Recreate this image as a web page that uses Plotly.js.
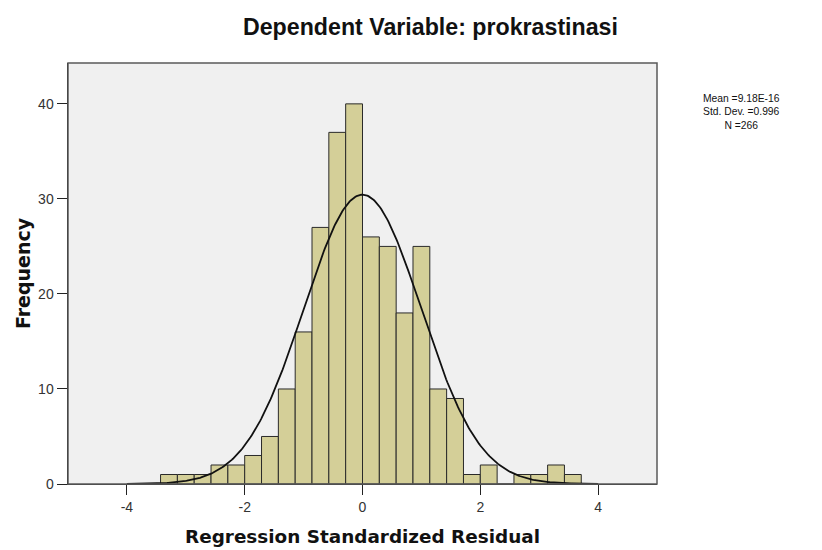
<!DOCTYPE html>
<html>
<head>
<meta charset="utf-8">
<script src="https://cdn.plot.ly/plotly-3.0.1.min.js"></script>
<style>html,body{margin:0;padding:0;background:#fff;}#chart{width:822px;height:550px;}</style>
</head>
<body>
<div id="chart"></div>
<script>
// Histogram bins (width 2/7, aligned at 0), indices -12..12
var binIndex = [-12,-11,-10,-9,-8,-7,-6,-5,-4,-3,-2,-1,0,1,2,3,4,5,6,7,8,9,10,11,12];
var frequency = [1,1,1,2,2,3,5,10,16,27,37,40,26,25,18,25,10,9,1,2,0,1,1,2,1];
var binWidth = 2/7;
var statMean = 9.18e-16;
var statSD = 0.996;
var statN = 266;
var xTicks = [-4,-2,0,2,4];
var yTicks = [0,10,20,30,40];
var statsLabels = ["Mean =9.18E-16", "Std. Dev. =0.996", "N =266"];

var centers = binIndex.map(function(i){ return (i + 0.5) * binWidth; });

// normal curve implied by the stated mean / SD / N
var cx = [], cy = [];
for (var k = 0; k <= 400; k++) {
  var x = -4 + 8 * k / 400;
  var z = (x - statMean) / statSD;
  cx.push(x);
  cy.push(statN * binWidth * Math.exp(-0.5 * z * z) / (statSD * Math.sqrt(2 * Math.PI)));
}

var traces = [
  {type: 'bar', x: centers, y: frequency, width: binWidth,
   marker: {color: '#d4cf98', line: {color: '#2a2a2a', width: 1}},
   hoverinfo: 'x+y', showlegend: false},
  {type: 'scatter', mode: 'lines', x: cx, y: cy,
   line: {color: '#111', width: 1.8}, showlegend: false, hoverinfo: 'skip'}
];

var layout = {
  width: 822, height: 550,
  margin: {l: 68, r: 165, t: 63, b: 66},
  paper_bgcolor: '#ffffff',
  plot_bgcolor: '#f0f0f0',
  bargap: 0,
  title: {text: '<b>Dependent Variable: prokrastinasi</b>',
          font: {family: 'Liberation Sans, Arial, sans-serif', size: 23.2, color: '#111'},
          x: 0.5237, xanchor: 'center', y: 0.951, yanchor: 'middle'},
  xaxis: {range: [-5, 5], tickvals: xTicks, ticktext: xTicks.map(String),
          ticks: 'outside', ticklen: 10, tickcolor: '#222', tickwidth: 1,
          showgrid: false, zeroline: false, showline: true, linecolor: '#333', linewidth: 1,
          tickfont: {family: 'Liberation Sans, Arial, sans-serif', size: 14, color: '#333'},
          title: {text: '<b>Regression Standardized Residual</b>', standoff: 16,
                  font: {family: 'DejaVu Sans, Verdana, sans-serif', size: 18.4, color: '#111'}}},
  yaxis: {range: [0, 44.3], tickvals: yTicks, ticktext: yTicks.map(String),
          ticks: 'outside', ticklen: 10, tickcolor: '#222', tickwidth: 1,
          showgrid: false, zeroline: false, showline: true, linecolor: '#111', linewidth: 1.5,
          tickfont: {family: 'Liberation Sans, Arial, sans-serif', size: 14, color: '#333'},
          title: {text: '<b>Frequency</b>', standoff: 2,
                  font: {family: 'DejaVu Sans, Verdana, sans-serif', size: 19, color: '#111'}}},
  shapes: [
    {type: 'rect', xref: 'paper', yref: 'paper', x0: 0, x1: 1, y0: 0, y1: 1,
     line: {color: '#5a5a5a', width: 1.5}, fillcolor: 'rgba(0,0,0,0)', layer: 'above'}
  ],
  annotations: [
    {xref: 'paper', yref: 'paper', x: 1.144, y: (484.3 - 112) / 421.6,
     xanchor: 'center', yanchor: 'middle', showarrow: false, align: 'center',
     text: statsLabels.join('<br>'),
     font: {family: 'Liberation Sans, Arial, sans-serif', size: 10.3, color: '#111'}}
  ]
};

Plotly.newPlot('chart', traces, layout, {displayModeBar: false, staticPlot: true});
</script>
</body>
</html>
